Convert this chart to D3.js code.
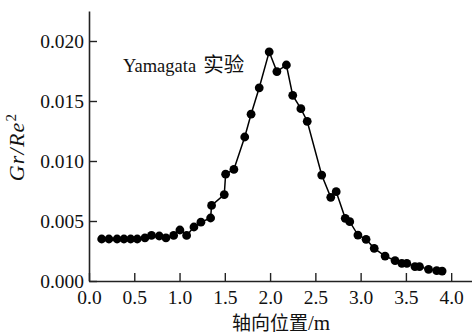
<!DOCTYPE html>
<html><head><meta charset="utf-8">
<script src="https://cdn.jsdelivr.net/npm/d3@7"></script>
<style>
html,body{margin:0;padding:0;background:#fff;}
svg{display:block;}
</style></head>
<body>
<svg id="chart" width="472" height="334"></svg>
<script>
const xValues = [0.14,0.22,0.31,0.386,0.46,0.533,0.618,0.69,0.776,0.85,0.935,1.004,1.078,1.159,1.236,1.343,1.354,1.494,1.509,1.60,1.72,1.79,1.88,1.99,2.075,2.18,2.25,2.34,2.41,2.57,2.67,2.73,2.83,2.88,2.97,3.06,3.15,3.27,3.38,3.455,3.51,3.60,3.65,3.75,3.84,3.90];
const yValues = [0.0035,0.0035,0.0035,0.0035,0.0035,0.0035,0.0036,0.0038,0.00375,0.0036,0.0038,0.00425,0.0038,0.0045,0.0049,0.00525,0.0063,0.0072,0.0089,0.0093,0.0120,0.0139,0.0161,0.0191,0.01745,0.0180,0.01547,0.01436,0.01331,0.00883,0.00697,0.00744,0.00522,0.00494,0.00383,0.00347,0.00272,0.00208,0.0017,0.00147,0.00147,0.0012,0.0012,0.00097,0.00086,0.00083];
const xTicks = [0,0.5,1.0,1.5,2.0,2.5,3.0,3.5,4.0];
const yTicks = [0,0.005,0.010,0.015,0.020];
const xTitle = "轴向位置/m";
const seriesLabelLatin = "Yamagata";
const seriesLabelCJK = "实验";

const svg = d3.select("#chart");
const x = d3.scaleLinear().domain([0,4.23]).range([89,472]);
const y = d3.scaleLinear().domain([0,0.0225]).range([281,11]);
const serif = "'Liberation Serif','Times New Roman'";
const cjk = "'Noto Sans CJK SC'";

const gx = svg.append("g").attr("transform","translate(0,281)")
  .call(d3.axisBottom(x).tickValues(xTicks).tickFormat(d3.format(".1f")).tickSizeInner(-8).tickSizeOuter(0).tickPadding(9));
const gy = svg.append("g").attr("transform","translate(89,0)")
  .call(d3.axisLeft(y).tickValues(yTicks).tickFormat(d3.format(".3f")).tickSizeInner(-8).tickSizeOuter(0).tickPadding(5));
[gx,gy].forEach(g=>{
  g.selectAll("path.domain").attr("stroke","#222").attr("stroke-width",1.6);
  g.selectAll(".tick line").attr("stroke","#222").attr("stroke-width",1.4);
  g.selectAll(".tick text").attr("fill","#111").style("font-family",serif).style("font-size","19.5px");
});

const pts = xValues.map((v,i)=>[v,yValues[i]]);
svg.append("path").datum(pts)
  .attr("fill","none").attr("stroke","#000").attr("stroke-width",1.5)
  .attr("d", d3.line().x(d=>x(d[0])).y(d=>y(d[1])));
svg.append("g").selectAll("circle").data(pts).join("circle")
  .attr("cx",d=>x(d[0])).attr("cy",d=>y(d[1])).attr("r",4.4).attr("fill","#000");

const xt = svg.append("text").attr("x",281).attr("y",330).attr("text-anchor","middle")
  .style("font-family",cjk).style("font-size","19px").attr("fill","#111");
xt.append("tspan").text(xTitle.slice(0,4));
xt.append("tspan").style("font-family",serif).style("font-size","21px").text(xTitle.slice(4));

const yl = svg.append("text").attr("transform","translate(24,147) rotate(-90)").attr("text-anchor","middle")
  .style("font-family",serif).style("font-size","22px").style("font-style","italic")
  .style("letter-spacing","1.2px").attr("fill","#111");
yl.append("tspan").text("Gr/Re");
yl.append("tspan").attr("dy","-8").style("font-size","15px").style("font-style","normal").text("2");

const tl = svg.append("text").attr("x",123).attr("y",72)
  .style("font-family",serif).style("font-size","18.5px").attr("fill","#111");
tl.append("tspan").text(seriesLabelLatin);
tl.append("tspan").attr("dx",7).style("font-family",cjk).style("font-size","20.5px").text(seriesLabelCJK);
</script>
</body></html>
